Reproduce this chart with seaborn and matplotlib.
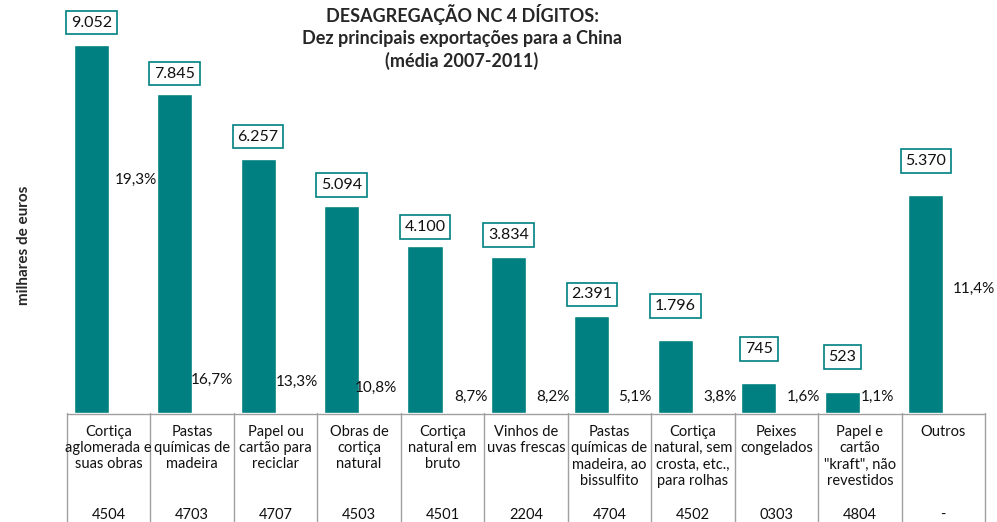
import pandas as pd
import seaborn as sns
import matplotlib.pyplot as plt

# Dados (média 2007-2011, milhares de euros)
categorias = [
    "Cortiça\naglomerada e\nsuas obras",
    "Pastas\nquímicas de\nmadeira",
    "Papel ou\ncartão para\nreciclar",
    "Obras de\ncortiça\nnatural",
    "Cortiça\nnatural em\nbruto",
    "Vinhos de\nuvas frescas",
    "Pastas\nquímicas de\nmadeira, ao\nbissulfito",
    "Cortiça\nnatural, sem\ncrosta, etc.,\npara rolhas",
    "Peixes\ncongelados",
    "Papel e\ncartão\n\"kraft\", não\nrevestidos",
    "Outros",
]
codigos = ["4504", "4703", "4707", "4503", "4501", "2204", "4704", "4502", "0303", "4804", "-"]
valores = [9052, 7845, 6257, 5094, 4100, 3834, 2391, 1796, 745, 523, 5370]
percentagens = [19.3, 16.7, 13.3, 10.8, 8.7, 8.2, 5.1, 3.8, 1.6, 1.1, 11.4]

# posição dos rótulos de percentagem (altura em milhares de euros, desvio em x)
pct_altura = [5730, 810, 760, 615, 395, 395, 395, 395, 395, 395, 3050]
pct_dx = [0.33, 0.24, 0.25, 0.20, 0.34, 0.32, 0.30, 0.32, 0.32, 0.21, 0.37]
# distância (px) da caixa do valor ao topo da barra
val_dy = [22.5, 20.5, 22, 21, 19.5, 22, 21.5, 34, 34, 35, 33.5]

teal = "#008080"

sns.set_style("white")
plt.rcParams["font.family"] = ["Lato", "DejaVu Sans"]

ids = [str(i) for i in range(len(valores))]
df = pd.DataFrame({
    "cat": ids * 2,
    "serie": ["valor"] * len(ids) + ["pct"] * len(ids),
    "v": valores + [0] * len(ids),
})

fig = plt.figure(figsize=(9.97, 5.22), dpi=100)
ax = fig.add_axes([67 / 997, 1 - 413 / 522, 918 / 997, 406.5 / 522])

sns.barplot(data=df, x="cat", y="v", hue="serie", order=ids,
            hue_order=["valor", "pct"], palette=[teal, teal],
            width=0.84, saturation=1, legend=False, ax=ax)

ax.set_xlim(-0.5, len(ids) - 0.5)
ax.set_ylim(0, 10000)
ax.set_xticks([])
ax.set_yticks([])
ax.set_xlabel("")
ax.set_ylabel("")
for s in ax.spines.values():
    s.set_visible(False)

# rótulos de valor em caixa
for i, v in enumerate(valores):
    txt = f"{v:,}".replace(",", ".")
    ax.annotate(txt, (i - 0.21, v), xytext=(0, val_dy[i]), textcoords="offset pixels",
                ha="center", va="center", fontsize=11.5, color="#111111",
                bbox=dict(boxstyle="square,pad=0.3", fc="white", ec=teal, lw=1.2),
                annotation_clip=False)

# rótulos de percentagem
for i, p in enumerate(percentagens):
    ax.text(i + pct_dx[i], pct_altura[i], f"{p:.1f}%".replace(".", ","),
            ha="center", va="center", fontsize=11, color="#111111")

# tabela de categorias por baixo
tab = fig.add_axes([67 / 997, 0, 918 / 997, 109 / 522])
tab.set_xlim(-0.5, len(ids) - 0.5)
tab.set_ylim(109, 0)
tab.axis("off")
grid = "#a0a0a0"
tab.plot([-0.5, len(ids) - 0.5], [0.5, 0.5], color=grid, lw=1, clip_on=False)
for k in range(len(ids) + 1):
    tab.plot([k - 0.5, k - 0.5], [0, 109], color=grid, lw=1, clip_on=False)
for i, (c, cod) in enumerate(zip(categorias, codigos)):
    tab.text(i, 12, c, ha="center", va="top", fontsize=10.5, linespacing=1.2,
             color="#111111")
    tab.text(i, 102, cod, ha="center", va="center", fontsize=10.5, color="#111111")

fig.text(462 / 997, 1 - 37 / 522,
         "DESAGREGAÇÃO NC 4 DÍGITOS:\nDez principais exportações para a China\n(média 2007-2011)",
         ha="center", va="center", fontsize=13, fontweight="bold", linespacing=1.35)
fig.text(24 / 997, 1 - 245 / 522, "milhares de euros", rotation=90,
         ha="center", va="center", fontsize=11, fontweight="bold")

fig.savefig("out.png", dpi=100)
